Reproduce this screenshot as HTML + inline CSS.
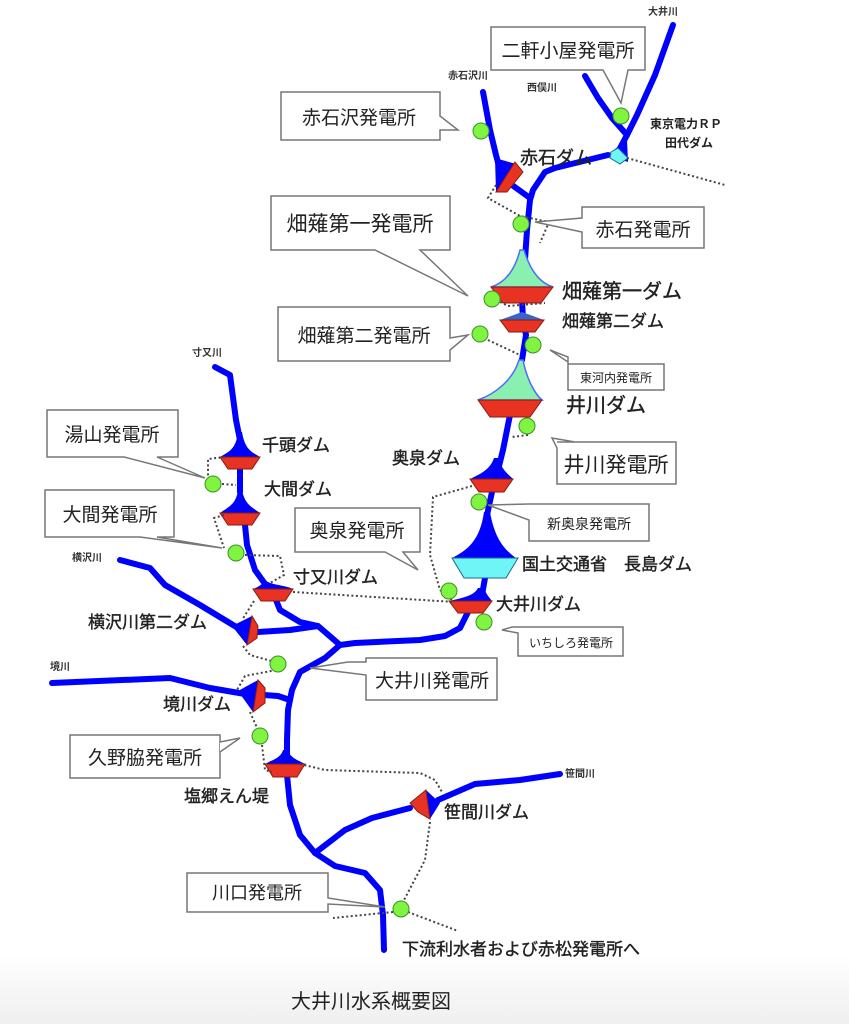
<!DOCTYPE html>
<html><head><meta charset="utf-8"><style>
html,body{margin:0;padding:0;background:#fff;}
svg{display:block;font-family:"Liberation Sans","Noto Sans CJK JP",sans-serif;}
.r{fill:none;stroke:#0000ff;stroke-width:6;stroke-linejoin:round;stroke-linecap:round}
.d{fill:none;stroke:#444;stroke-width:2;stroke-dasharray:2 2.5}
.g{fill:#7ff542;stroke:#3f8f2a;stroke-width:1}
.red{fill:#e83222;stroke:#8a1a10;stroke-width:1}
.bl{fill:#0000ff}
.bx{fill:#fff;stroke:#777;stroke-width:1.5}
.t{fill:#222}
.s{font-weight:bold;fill:#333}
</style></head><body>
<svg width="849" height="1024" viewBox="0 0 849 1024">
<defs><linearGradient id="bg" x1="0" y1="0" x2="0" y2="1"><stop offset="0" stop-color="#fff"/><stop offset="1" stop-color="#efefef"/></linearGradient></defs>
<rect x="0" y="955" width="849" height="69" fill="url(#bg)"/>

<!-- rivers -->
<path class="r" d="M673,25 L655,75 L637,115 L627,135 L618,152"/>
<path class="r" d="M585,76 L598,98 L612,118 L627,135"/>
<path class="r" d="M608,155 L555,168 L545,172 L533,190 L530,200 L527,230 L525,260"/>
<path class="r" d="M483,92 L490,130 L496,155 L500,170"/>
<path class="r" d="M512,185 L530,198"/>
<path class="r" d="M522,300 L523,320 L526,335 L522,360"/>
<path class="r" d="M510,415 L503,450 L496,478"/>
<path class="r" d="M492,492 L487,515"/>
<path class="r" d="M485,578 L482,595"/>
<path class="r" d="M468,612 L460,628 L445,636 L420,640 L355,643 L340,645 L325,658 L300,672 L292,690 L288,710 L287,740 L287,765"/>
<path class="r" d="M287,775 L290,805 L300,835 L315,853 L335,866 L365,873 L380,890 L383,915 L384,950"/>
<path class="r" d="M315,853 L345,830 L372,818 L410,808"/>
<path class="r" d="M438,800 L475,784 L520,780 L560,774"/>
<path class="r" d="M215,367 L230,375 L236,420 L240,440"/>
<path class="r" d="M240,468 L240,492"/>
<path class="r" d="M245,525 L247,545 L255,570 L268,588"/>
<path class="r" d="M276,600 L280,610 L300,622 L318,626 L325,632 L340,645"/>
<path class="r" d="M120,560 L150,568 L165,585 L200,605 L238,628"/>
<path class="r" d="M258,632 L290,630 L318,626"/>
<path class="r" d="M52,683 L170,678 L210,688 L245,694"/>
<path class="r" d="M264,695 L278,696 L290,700"/>

<!-- funnels -->
<path fill="#8af0b0" stroke="#4a6cff" stroke-width="1.5" d="M520,250 L524,250 C530,270 540,283 553,287 L491,287 C505,283 515,270 520,250Z"/>
<path fill="#8af0b0" stroke="#4a6cff" stroke-width="1.5" d="M519,360 L523,360 C527,380 535,394 542,400 L478,400 C495,394 513,380 519,360Z"/>
<path fill="#3566c8" d="M522,312 L544,320 L500,320Z"/>
<path class="bl" d="M494,458 L498,458 C502,470 508,474 513,479 L470,479 C480,474 490,470 494,458Z"/>
<path class="bl" d="M484,512 L490,512 C495,540 505,550 516,558 L452,558 C468,550 480,540 484,512Z"/>
<path class="bl" d="M478,588 L484,588 C487,596 490,598 492,601 L449,601 C462,598 474,596 478,588Z"/>
<path class="bl" d="M238,432 L242,432 C245,450 252,452 260,457 L220,457 C228,452 236,450 238,432Z"/>
<path class="bl" d="M238,490 L242,490 C245,505 252,507 260,513 L220,513 C228,507 236,505 238,490Z"/>
<path class="bl" d="M265,580 C270,585 285,585 293,589 L253,589 C258,587 262,585 265,580Z"/>
<path class="bl" d="M283,750 L288,750 C290,758 298,760 305,764 L265,764 C272,760 281,758 283,750Z"/>
<path class="bl" d="M232,626 L252,616 L247,645Z"/>
<path class="bl" d="M238,691 L258,680 L253,712Z"/>
<path class="bl" d="M440,803 L426,790 L430,819Z"/>
<path class="bl" d="M495,158 L516,164 L496,192Z"/>
<path class="bl" d="M607,155 L627,140 L628,162Z"/>

<!-- dam bodies -->
<path class="red" d="M491,287 L553,287 L541,303 L503,303Z"/>
<path class="red" d="M500,320 L544,320 L535,332 L509,332Z"/>
<path class="red" d="M478,400 L542,400 L530,417 L490,417Z"/>
<path class="red" d="M470,479 L513,479 L504,492 L479,492Z"/>
<path fill="#6ff5f5" stroke="#1a6a8a" stroke-width="1" d="M452,558 L518,558 L506,578 L464,578Z"/>
<path class="red" d="M449,601 L492,601 L483,613 L458,613Z"/>
<path class="red" d="M220,457 L260,457 L252,469 L228,469Z"/>
<path class="red" d="M220,513 L260,513 L252,525 L228,525Z"/>
<path class="red" d="M253,589 L293,589 L285,601 L261,601Z"/>
<path class="red" d="M265,764 L305,764 L297,777 L273,777Z"/>
<path class="red" d="M252,616 L258,626 L257,638 L247,645Z"/>
<path class="red" d="M258,680 L265,688 L265,703 L253,712Z"/>
<path class="red" d="M426,790 L410,803 L418,812 L430,819Z"/>
<path class="red" d="M515,162 L523,172 L507,192 L496,192Z"/>
<path fill="#6ff5f5" stroke="#1a6a8a" stroke-width="1" d="M611,152 L618,148 L628,158 L620,164 L610,158Z"/>

<!-- dotted lines -->
<path class="d" d="M627,158 L725,185"/>
<path class="d" d="M496,185 L488,198 L520,216 L549,222 L540,243"/>
<path class="d" d="M500,302 L508,306 L545,303"/>
<path class="d" d="M488,340 L520,355"/>
<path class="d" d="M528,435 L512,437"/>
<path class="d" d="M472,486 L433,497 L430,555 L440,590 L452,600"/>
<path class="d" d="M293,592 L455,602"/>
<path class="d" d="M225,457 L208,459 L208,480"/>
<path class="d" d="M222,484 L236,485"/>
<path class="d" d="M224,515 L214,518 L224,548"/>
<path class="d" d="M245,555 L280,556 L284,575 L270,583"/>
<path class="d" d="M254,601 L242,620"/>
<path class="d" d="M243,646 L250,655 L275,662"/>
<path class="d" d="M276,670 L245,676 L237,690"/>
<path class="d" d="M250,712 L258,730"/>
<path class="d" d="M262,745 L265,770 L272,772"/>
<path class="d" d="M300,764 L325,770 L420,773 L435,780 L442,792"/>
<path class="d" d="M430,822 L425,860 L403,902"/>
<path class="d" d="M393,912 L333,918"/>
<path class="d" d="M408,912 L458,931"/>

<!-- green circles -->
<circle class="g" cx="621" cy="116" r="8"/>
<circle class="g" cx="481" cy="131" r="8"/>
<circle class="g" cx="521" cy="224" r="8"/>
<circle class="g" cx="492" cy="299" r="8"/>
<circle class="g" cx="480" cy="334" r="8"/>
<circle class="g" cx="533" cy="345" r="8"/>
<circle class="g" cx="527" cy="426" r="8"/>
<circle class="g" cx="479" cy="502" r="8"/>
<circle class="g" cx="213" cy="484" r="8"/>
<circle class="g" cx="236" cy="553" r="8"/>
<circle class="g" cx="449" cy="591" r="8"/>
<circle class="g" cx="484" cy="622" r="8"/>
<circle class="g" cx="278" cy="664" r="8"/>
<circle class="g" cx="260" cy="736" r="8"/>
<circle class="g" cx="401" cy="909" r="8"/>

<!-- callouts -->
<g>
<path class="bx" d="M491,27 L645,27 L645,70 L628,70 L621,103 L603,70 L491,70Z"/>
<text class="t" x="568" y="57" font-size="19" text-anchor="middle">二軒小屋発電所</text>
<path class="bx" d="M281,92 L440,92 L440,116 L458,130 L440,130 L440,140 L281,140Z"/>
<text class="t" x="359" y="124" font-size="19" text-anchor="middle">赤石沢発電所</text>
<path class="bx" d="M582,207 L704,207 L704,248 L582,248 L582,232 L535,222 L582,218Z"/>
<text class="t" x="643" y="236" font-size="19" text-anchor="middle">赤石発電所</text>
<path class="bx" d="M271,196 L450,196 L450,250 L420,250 L468,296 L375,250 L271,250Z"/>
<text class="t" x="360" y="231" font-size="21" text-anchor="middle">畑薙第一発電所</text>
<path class="bx" d="M278,307 L450,307 L450,338 L468,335 L450,350 L450,361 L278,361Z"/>
<text class="t" x="364" y="342" font-size="19" text-anchor="middle">畑薙第二発電所</text>
<path class="bx" d="M568,364 L664,364 L664,390 L568,390 L568,362 L550,350 L568,357Z"/>
<text class="t" x="616" y="382" font-size="12" text-anchor="middle">東河内発電所</text>
<path class="bx" d="M557,442 L676,442 L676,484 L557,484 L557,448 L552,438 L575,442Z"/>
<text class="t" x="616" y="472" font-size="21" text-anchor="middle">井川発電所</text>
<path class="bx" d="M529,504 L649,504 L649,541 L529,541 L529,520 L488,505Z"/>
<text class="t" x="589" y="529" font-size="14" text-anchor="middle">新奥泉発電所</text>
<path class="bx" d="M295,508 L420,508 L420,552 L403,552 L418,570 L385,552 L295,552Z"/>
<text class="t" x="357" y="537" font-size="19" text-anchor="middle">奥泉発電所</text>
<path class="bx" d="M47,410 L178,410 L178,457 L157,457 L205,478 L124,457 L47,457Z"/>
<text class="t" x="112" y="441" font-size="19" text-anchor="middle">湯山発電所</text>
<path class="bx" d="M45,490 L174,490 L174,537 L157,537 L222,548 L140,537 L45,537Z"/>
<text class="t" x="110" y="521" font-size="19" text-anchor="middle">大間発電所</text>
<path class="bx" d="M366,658 L497,658 L497,700 L366,700 L366,675 L310,668 L348,662 L366,662Z"/>
<text class="t" x="432" y="687" font-size="19" text-anchor="middle">大井川発電所</text>
<path class="bx" d="M518,627 L623,627 L623,656 L518,656 L518,633 L502,630 L512,627Z"/>
<text class="t" x="571" y="647" font-size="12" text-anchor="middle">いちしろ発電所</text>
<path class="bx" d="M70,735 L220,735 L220,778 L70,778Z"/>
<path class="bx" d="M220,742 L240,738 L220,752" fill="#fff"/>
<text class="t" x="145" y="764" font-size="19" text-anchor="middle">久野脇発電所</text>
<path class="bx" d="M187,873 L328,873 L328,898 L385,907 L328,904 L328,912 L187,912Z"/>
<text class="t" x="257" y="899" font-size="18" text-anchor="middle">川口発電所</text>
</g>

<!-- labels -->
<g class="t">
<text class="s" x="648" y="15" font-size="10">大井川</text>
<text class="s" x="448" y="79" font-size="10">赤石沢川</text>
<text class="s" x="527" y="91" font-size="10">西俣川</text>
<text x="650" y="128" font-size="12" font-weight="bold">東京電力ＲＰ</text>
<text x="665" y="147" font-size="12" font-weight="bold">田代ダム</text>
<g stroke="#222" stroke-width="0.4">
<text x="520" y="164" font-size="18">赤石ダム</text>
<text x="562" y="298" font-size="20">畑薙第一ダム</text>
<text x="562" y="327" font-size="17">畑薙第二ダム</text>
<text x="566" y="412" font-size="20">井川ダム</text>
<text x="392" y="464" font-size="17">奥泉ダム</text>
<text x="522" y="570" font-size="17">国土交通省　長島ダム</text>
<text x="496" y="610" font-size="17">大井川ダム</text>
<text x="262" y="451" font-size="17">千頭ダム</text>
<text x="264" y="495" font-size="17">大間ダム</text>
<text x="293" y="583" font-size="17">寸又川ダム</text>
<text x="88" y="628" font-size="17">横沢川第二ダム</text>
<text x="163" y="710" font-size="17">境川ダム</text>
<text x="184" y="802" font-size="17">塩郷えん堤</text>
<text x="444" y="818" font-size="17">笹間川ダム</text>
<text x="402" y="955" font-size="17">下流利水者および赤松発電所へ</text>
</g>
<text class="s" x="192" y="356" font-size="10">寸又川</text>
<text class="s" x="72" y="561" font-size="10">横沢川</text>
<text class="s" x="50" y="670" font-size="10">境川</text>
<text class="s" x="565" y="777" font-size="10">笹間川</text>
<text x="291" y="1008" font-size="20">大井川水系概要図</text>
</g>
</svg>
</body></html>
